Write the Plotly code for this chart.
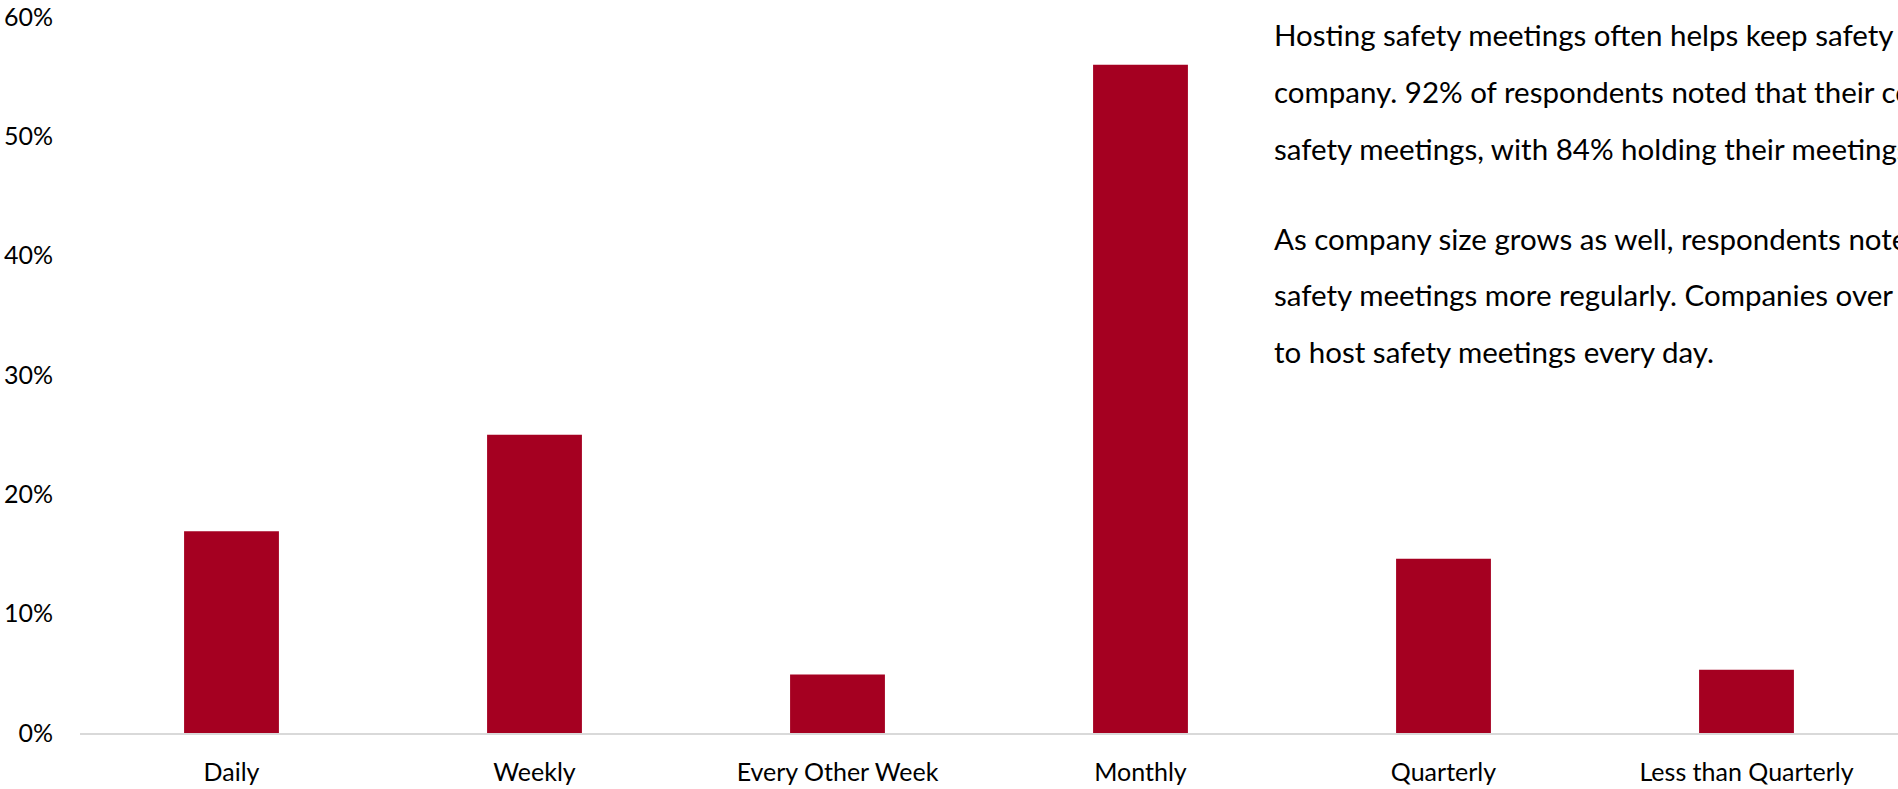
import plotly.graph_objects as go

categories = ["Daily", "Weekly", "Every Other Week", "Monthly", "Quarterly", "Less than Quarterly"]
shares = [0.169, 0.250, 0.049, 0.560, 0.146, 0.053]

text_lines = [
    "Hosting safety meetings often helps keep safety top of mind at the",
    "company. 92% of respondents noted that their company holds regular",
    "safety meetings, with 84% holding their meetings at least monthly.",
    "As company size grows as well, respondents noted that they hold",
    "safety meetings more regularly. Companies over 500 employees tend",
    "to host safety meetings every day.",
]
text_baselines = [42.3, 99.0, 156.0, 246.7, 302.7, 359.3]

W, H = 1898, 789
ML, MR, MT, MB = 80, 0, 16.5, H - 733
FONT = "Lato, Carlito, Calibri, sans-serif"
BAR = "#A50021"

fig = go.Figure(go.Bar(
    x=categories, y=shares,
    marker=dict(color=BAR, line=dict(width=0)),
    hoverinfo="x+y",
))

plot_h = H - MT - MB
plot_w = W - ML - MR

def px_to_paper_y(ypx):
    return (H - MB - ypx) / plot_h

def px_to_paper_x(xpx):
    return (xpx - ML) / plot_w

TEXT_SIZE = 29.5
annotations = []
for line, base in zip(text_lines, text_baselines):
    annotations.append(dict(
        text=line, xref="paper", yref="paper",
        x=px_to_paper_x(1272), y=px_to_paper_y(base - 0.28 * TEXT_SIZE),
        xanchor="left", yanchor="middle", align="left", showarrow=False,
        font=dict(family=FONT, size=TEXT_SIZE, color="#000000"),
    ))

fig.update_layout(
    width=W, height=H,
    margin=dict(l=ML, r=MR, t=MT, b=MB, pad=0, autoexpand=False),
    paper_bgcolor="white", plot_bgcolor="white",
    bargap=0.687,
    showlegend=False,
    font=dict(family=FONT, color="#000000"),
    annotations=annotations,
    xaxis=dict(
        showgrid=False, showline=True, linecolor="#D9D9D9", linewidth=2,
        ticks="", tickfont=dict(family=FONT, size=25, color="#000000"),
        ticklabelstandoff=16, zeroline=False, automargin=False,
        ticklabeloverflow="allow",
    ),
    yaxis=dict(
        range=[0, 0.6], dtick=0.1, tickformat=".0%",
        showgrid=False, showline=False, zeroline=False,
        ticks="", tickfont=dict(family=FONT, size=25, color="#000000"),
        ticklabelstandoff=26, automargin=False,
        ticklabeloverflow="allow",
    ),
)

fig.write_html(
    "out.html",
    config={"displayModeBar": False},
    post_script="document.body.style.margin='0';document.body.style.overflow='hidden';",
)
